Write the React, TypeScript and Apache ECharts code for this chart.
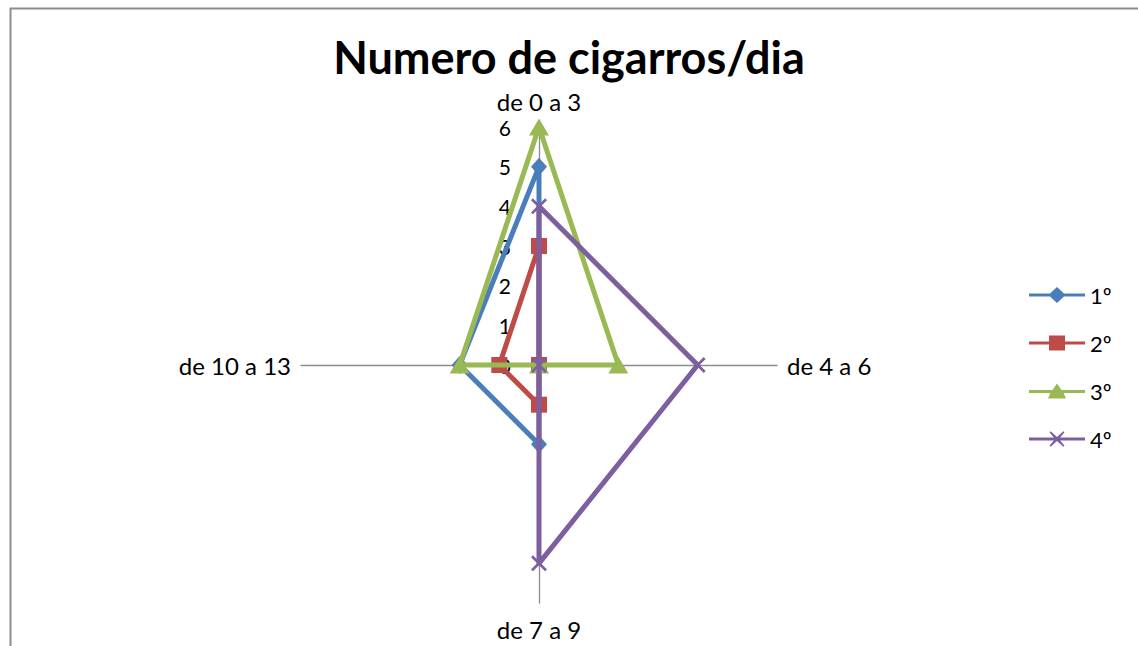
import React, { useEffect, useRef } from "react";
import * as echarts from "echarts";

const categories = ["de 0 a 3", "de 4 a 6", "de 7 a 9", "de 10 a 13"];
const seriesNames = ["1º", "2º", "3º", "4º"];
const values1 = [5, 0, 2, 2];
const values2 = [3, 0, 1, 1];
const values3 = [6, 2, 0, 2];
const values4 = [4, 4, 5, 0];
const axisMax = 6;
const titleText = "Numero de cigarros/dia";

// radar draws counter-clockwise from the top: top, left, bottom, right
const displayOrder = [0, 3, 2, 1];

const colors = ["#4A7EBB", "#BE4B48", "#98B954", "#7D5FA0"];
const crossPath =
  "path://M0,1.2 L1.2,0 L5,3.8 L8.8,0 L10,1.2 L6.2,5 L10,8.8 L8.8,10 L5,6.2 L1.2,10 L0,8.8 L3.8,5 Z";
const symbols = ["diamond", "rect", "triangle", crossPath];
const symbolSizes: any[] = [[16, 18], 16, [20, 17], 16];

const legendIcons = [
  "path://M0,6.5 L21,6.5 L28,0 L35,6.5 L56,6.5 L56,9.5 L35,9.5 L28,16 L21,9.5 L0,9.5 Z",
  "path://M0,6.5 L20,6.5 L20,0.5 L36,0.5 L36,6.5 L56,6.5 L56,9.5 L36,9.5 L36,15.5 L20,15.5 L20,9.5 L0,9.5 Z",
  "path://M0,6.5 L23.5,6.5 L28,0 L32.5,6.5 L56,6.5 L56,9.5 L34.6,9.5 L37,15 L19,15 L21.4,9.5 L0,9.5 Z",
  "path://M0,6.5 L24.8,6.5 L20.5,1.3 L21.7,0.3 L28,6 L34.3,0.3 L35.5,1.3 L31.2,6.5 L56,6.5 L56,9.5 L31.2,9.5 L35.5,14.7 L34.3,15.7 L28,10 L21.7,15.7 L20.5,14.7 L24.8,9.5 L0,9.5 Z",
];

export default function App() {
  const ref = useRef<HTMLDivElement>(null);
  useEffect(() => {
    if (!ref.current) return;
    const chart = echarts.init(ref.current, null, { renderer: "svg" });
    const allValues = [values1, values2, values3, values4];
    const font = "Lato, 'Open Sans', sans-serif";
    const tickLabelStyle = {
      fontSize: 21,
      color: "#000",
      fontFamily: font,
      margin: 28,
    };
    const indicator = displayOrder.map((ci, k) => ({
      name: categories[ci],
      min: 0,
      max: axisMax,
      ...(k === 0 ? { axisLabel: { show: true, ...tickLabelStyle } } : {}),
    }));
    chart.setOption({
      animation: false,
      backgroundColor: "#fff",
      title: {
        text: titleText,
        left: "center",
        top: 29,
        textStyle: {
          fontSize: 45,
          fontWeight: "bold",
          color: "#000",
          fontFamily: font,
        },
      },
      legend: {
        orient: "vertical",
        left: 1024,
        top: 279,
        itemWidth: 56,
        itemHeight: 16,
        itemGap: 26,
        textStyle: { fontSize: 22, color: "#000", fontFamily: font },
        data: seriesNames.map((n, i) => ({
          name: n,
          icon: legendIcons[i],
          itemStyle: { color: colors[i] },
        })),
      },
      graphic: [
        {
          type: "rect",
          left: 8,
          top: 6,
          shape: { width: 1200, height: 700 },
          style: { fill: "none", stroke: "#8c8c8c", lineWidth: 2 },
          silent: true,
        },
      ],
      radar: {
        center: [539, 365],
        radius: 238,
        startAngle: 90,
        splitNumber: 6,
        shape: "polygon",
        indicator,
        axisName: {
          color: "#000",
          fontSize: 24,
          fontFamily: font,
          padding: [4, 0, 4, 0],
        },
        nameGap: 10,
        axisLine: { lineStyle: { color: "#8c8c8c", width: 1.3 } },
        axisTick: { show: false },
        axisLabel: { show: false, ...tickLabelStyle },
        splitLine: { show: false },
        splitArea: { show: false },
      },
      series: seriesNames.map((n, i) => ({
        type: "radar",
        name: n,
        symbol: symbols[i],
        symbolSize: symbolSizes[i],
        lineStyle: { color: colors[i], width: 5 },
        itemStyle: { color: colors[i] },
        z: 2 + i,
        data: [
          {
            name: n,
            value: displayOrder.map((ci) => allValues[i][ci]),
          },
        ],
      })),
    });
    return () => chart.dispose();
  }, []);
  return (
    <div
      ref={ref}
      style={{ position: "fixed", left: 0, top: 0, width: 1138, height: 646 }}
    />
  );
}
